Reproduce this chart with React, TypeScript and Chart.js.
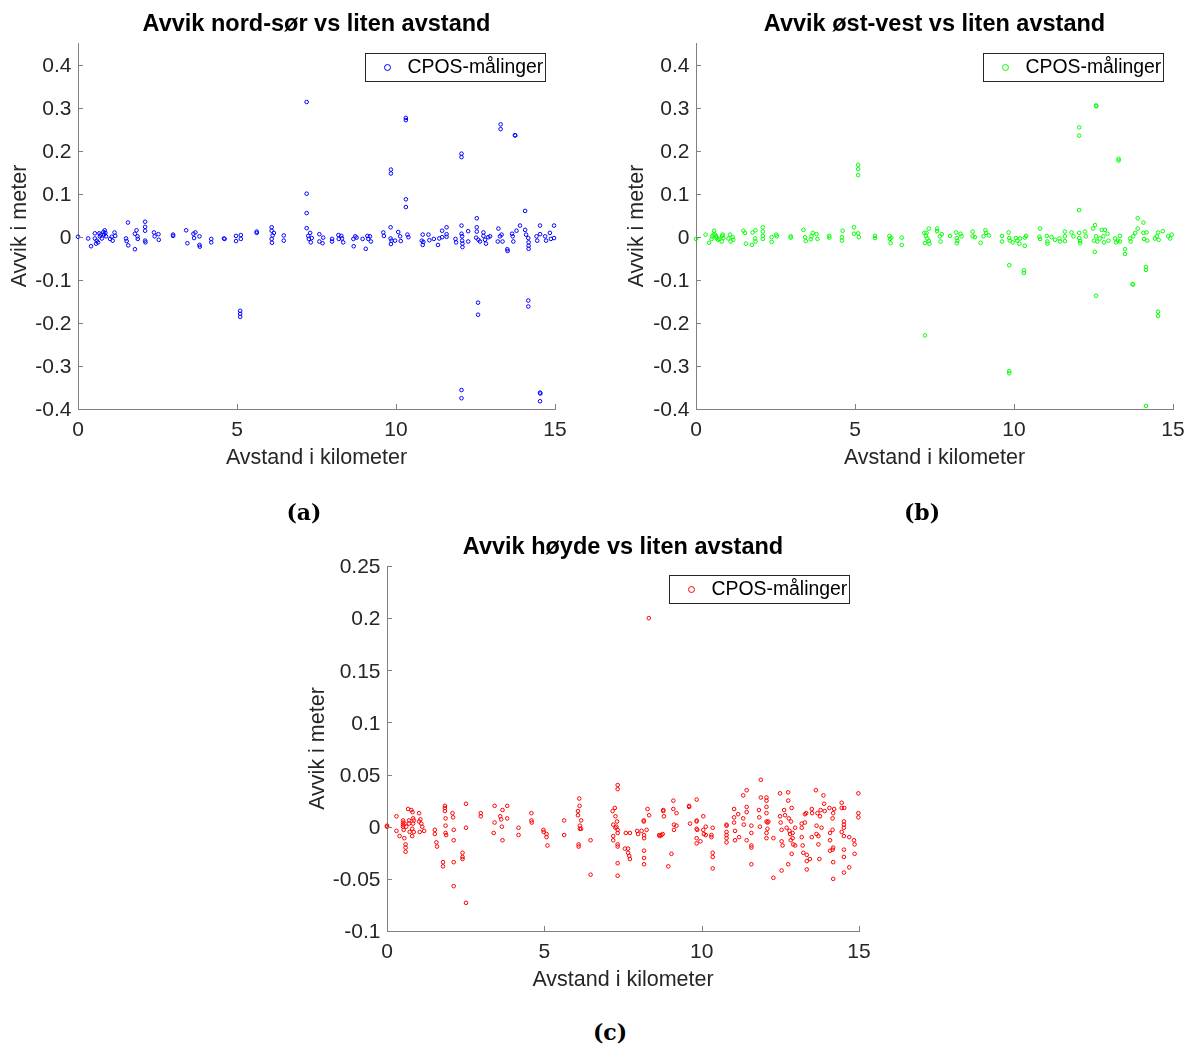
import React, { useEffect, useRef } from 'react';
import { Chart, registerables } from 'chart.js';

Chart.register(...registerables);

type Pt = [number, number];

// ---------- data (distance in km, deviation in m) ----------
const nordSor: Pt[] = [
  [0, 0], [0.32, -0.004], [0.41, -0.022], [0.53, 0.008], [0.53, -0.004], [0.57, -0.016], [0.59, -0.009],
  [0.63, -0.013], [0.67, 0.008], [0.69, 0.001], [0.71, 0.005], [0.75, -0.004], [0.8, 0.011], [0.82, 0.005],
  [0.84, 0.015], [0.86, 0.009], [0.88, 0.001], [1.01, -0.005], [1.06, 0], [1.09, -0.009], [1.15, 0.01],
  [1.17, 0.002], [1.51, -0.004], [1.53, -0.01], [1.57, 0.033], [1.58, -0.02], [1.79, -0.029], [1.79, 0.007],
  [1.84, 0.015], [1.87, 0.001], [1.88, -0.005], [2.11, 0.035], [2.11, 0.023], [2.11, 0.014], [2.11, -0.009],
  [2.12, -0.013], [2.39, 0.01], [2.41, 0.001], [2.53, 0.006], [2.54, -0.007], [2.99, 0.005], [2.99, 0.002],
  [3.4, 0.015], [3.44, -0.015], [3.63, 0.007], [3.65, -0.003], [3.69, 0.01], [3.82, 0.001], [3.82, -0.019],
  [3.83, -0.023], [4.19, -0.005], [4.19, -0.013], [4.59, -0.004], [4.61, -0.005], [4.97, 0.002], [4.97, -0.01],
  [5.12, 0.004], [5.12, -0.005], [5.62, 0.012], [5.62, 0.009], [6.09, 0.022], [6.09, 0.014], [6.12, 0.003],
  [6.09, -0.005], [6.1, -0.014], [6.16, 0.009], [6.47, 0.003], [6.47, -0.009], [7.24, 0.002], [7.26, -0.005],
  [7.3, 0.009], [7.32, -0.013], [7.35, -0.003], [7.59, 0.006], [7.59, -0.011], [7.69, -0.015], [7.71, -0.002],
  [7.99, -0.005], [7.99, -0.011], [8.19, 0.004], [8.2, -0.005], [8.28, 0.002], [8.3, -0.004], [8.34, -0.013],
  [8.66, -0.005], [8.67, -0.022], [8.72, 0.001], [8.76, -0.002], [8.95, -0.005], [9.05, -0.028], [9.1, 0.002],
  [9.13, -0.005], [9.18, 0.001], [9.21, -0.011], [9.6, 0.01], [9.62, 0.002], [9.83, 0.022], [9.83, -0.004],
  [9.84, -0.017], [9.86, -0.009], [9.97, -0.009], [10.07, 0.011], [10.13, 0.001], [10.15, -0.01], [10.36, 0.005],
  [10.39, -0.001], [10.81, -0.009], [10.84, -0.019], [10.84, 0.005], [10.86, -0.012], [11.02, 0.005],
  [11.05, -0.008], [11.19, -0.005], [11.32, -0.019], [11.36, -0.004], [11.45, -0.001], [11.45, 0.014],
  [11.59, 0.022], [11.59, 0.006], [11.59, 0], [11.87, -0.005], [11.89, -0.013], [12.06, 0.026], [12.06, 0.007],
  [12.08, 0.001], [12.08, -0.009], [12.09, -0.016], [12.09, -0.024], [12.27, 0.013], [12.27, -0.011],
  [12.54, 0.022], [12.54, 0.012], [12.52, -0.002], [12.59, -0.007], [12.64, -0.011], [12.75, 0.01],
  [12.75, 0.002], [12.8, -0.007], [12.83, -0.016], [12.9, -0.001], [12.96, 0.001], [13.22, 0.019],
  [13.2, -0.011], [13.27, 0.001], [13.32, 0.005], [13.35, -0.011], [13.5, -0.029], [13.51, -0.033],
  [13.65, 0.007], [13.67, 0.001], [13.69, -0.011], [13.79, 0.014], [13.9, 0.026], [14.06, 0.016],
  [14.09, 0.005], [14.16, -0.003], [14.17, -0.013], [14.17, -0.021], [14.17, -0.028], [14.42, 0.001],
  [14.44, -0.009], [14.53, 0.026], [14.53, 0.006], [14.69, 0.001], [14.72, -0.009], [14.84, 0.009],
  [14.87, -0.005], [14.97, 0.026], [14.97, -0.003],
  [7.19, 0.313], [7.19, 0.1], [7.19, 0.055], [7.19, 0.02], [10.31, 0.276], [10.31, 0.271], [13.29, 0.261],
  [13.29, 0.25], [13.74, 0.236], [13.75, 0.235], [12.06, 0.193], [12.06, 0.185], [9.84, 0.156], [9.84, 0.147],
  [10.31, 0.087], [10.31, 0.069], [14.06, 0.06], [12.54, 0.043], [5.1, -0.172], [5.1, -0.179], [5.1, -0.186],
  [12.58, -0.153], [12.58, -0.181], [14.16, -0.148], [14.16, -0.162], [12.06, -0.356], [12.06, -0.375],
  [14.53, -0.362], [14.54, -0.364], [14.53, -0.382],
];

const ostVest: Pt[] = [
  [0, -0.005], [0.3, 0.005], [0.41, -0.014], [0.49, -0.005], [0.51, 0.001], [0.55, 0.005], [0.57, 0.014],
  [0.6, 0.005], [0.63, 0.001], [0.65, -0.003], [0.69, -0.007], [0.73, -0.005], [0.81, -0.011], [0.82, 0.002],
  [0.84, 0.005], [0.86, -0.003], [1.02, -0.004], [1.07, 0.005], [1.09, -0.011], [1.15, -0.001], [1.17, -0.007],
  [1.49, 0.014], [1.54, 0.009], [1.57, -0.016], [1.76, -0.019], [1.78, 0.01], [1.86, -0.004], [1.87, -0.011],
  [1.87, 0.015], [2.1, 0.022], [2.1, 0.012], [2.1, 0.002], [2.1, -0.005], [2.38, -0.001], [2.38, -0.012],
  [2.52, 0.005], [2.54, 0.001], [2.98, 0.001], [2.98, -0.002], [3.38, 0.016], [3.43, -0.001], [3.45, -0.01],
  [3.61, -0.006], [3.63, 0.001], [3.67, 0.009], [3.79, 0.006], [3.82, -0.005], [4.19, 0.002], [4.19, -0.002],
  [4.59, -0.001], [4.59, -0.009], [4.61, 0.014], [4.97, 0.022], [4.97, 0.007], [5.1, 0.008], [5.12, -0.001],
  [5.63, 0.002], [5.63, -0.003], [6.08, 0.002], [6.1, -0.005], [6.12, -0.015], [6.14, -0.002], [6.47, -0.002],
  [6.47, -0.019], [7.18, 0.009], [7.2, -0.015], [7.23, 0.002], [7.25, 0.009], [7.27, -0.004], [7.32, 0.019],
  [7.32, -0.01], [7.34, -0.016], [7.58, 0.019], [7.58, 0.013], [7.67, 0.001], [7.69, -0.011], [7.73, 0.006],
  [7.99, 0.002], [8.18, 0.01], [8.2, -0.003], [8.2, -0.015], [8.22, -0.009], [8.32, 0.007], [8.35, 0.001],
  [8.7, 0.012], [8.7, 0.001], [8.77, -0.001], [8.95, -0.014], [9.04, 0.001], [9.1, 0.015], [9.12, 0.009],
  [9.21, 0.003], [9.62, 0.002], [9.62, -0.011], [9.83, 0.01], [9.85, -0.003], [9.87, -0.009], [9.96, -0.013],
  [10.06, -0.003], [10.1, -0.009], [10.17, -0.016], [10.19, -0.004], [10.34, -0.002], [10.34, -0.021],
  [10.38, 0.002], [10.8, 0], [10.82, 0.019], [10.82, -0.005], [11.03, 0.002], [11.05, -0.011], [11.05, -0.016],
  [11.18, -0.001], [11.29, -0.007], [11.43, -0.004], [11.45, -0.011], [11.6, 0.012], [11.6, 0.001],
  [11.6, -0.01], [11.81, 0.01], [11.87, 0.001], [12.05, 0.009], [12.05, -0.003], [12.08, -0.01], [12.08, -0.015],
  [12.23, 0.012], [12.26, 0.001], [12.49, 0.019], [12.52, -0.009], [12.55, 0.027], [12.58, 0.001],
  [12.62, -0.011], [12.7, -0.004], [12.76, 0.016], [12.81, 0.001], [12.83, -0.013], [12.86, 0.016],
  [12.94, 0.007], [12.97, -0.009], [13.18, -0.004], [13.21, -0.013], [13.26, -0.009], [13.33, 0.002],
  [13.33, -0.011], [13.65, -0.004], [13.67, -0.011], [13.75, 0.001], [13.81, 0.009], [13.89, 0.019],
  [14.07, 0.009], [14.09, -0.005], [14.17, 0.01], [14.19, -0.009], [14.43, -0.004], [14.49, 0.001],
  [14.53, 0.01], [14.55, -0.007], [14.68, 0.013], [14.85, 0.001], [14.91, -0.004], [14.96, 0.005],
  [12.58, 0.305], [12.59, 0.303], [12.05, 0.254], [12.05, 0.235], [13.29, 0.181], [13.29, 0.177], [5.1, 0.167],
  [5.1, 0.157], [5.1, 0.143], [12.05, 0.062], [13.89, 0.043], [14.07, 0.033], [12.54, -0.035], [13.49, -0.029],
  [13.49, -0.04], [9.85, -0.066], [10.31, -0.078], [10.31, -0.084], [14.15, -0.07], [14.15, -0.077],
  [13.73, -0.11], [13.74, -0.111], [12.58, -0.137], [14.53, -0.174], [14.53, -0.184], [7.2, -0.229],
  [9.85, -0.312], [9.85, -0.317], [14.15, -0.393],
];

const hoyde: Pt[] = [
  [0, 0], [0, 0.001], [0.3, 0.01], [0.3, -0.004], [0.4, -0.009], [0.51, 0.006], [0.51, 0.004], [0.51, 0.002],
  [0.51, 0], [0.53, -0.003], [0.56, 0.003], [0.55, -0.011], [0.59, -0.017], [0.59, -0.02], [0.59, -0.024],
  [0.61, 0], [0.67, 0.017], [0.7, 0.003], [0.7, 0.006], [0.72, -0.005], [0.77, 0.016], [0.8, -0.009],
  [0.8, -0.002], [0.81, 0.014], [0.83, 0.008], [0.85, 0.006], [0.85, -0.005], [0.83, 0.003], [1.02, 0.013],
  [1.02, 0.005], [1.04, -0.005], [1.06, 0.007], [1.09, 0.003], [1.12, 0], [1.18, -0.004], [1.52, -0.003],
  [1.52, -0.007], [1.57, -0.015], [1.59, -0.019], [1.78, -0.034], [1.78, -0.038], [1.84, 0.02], [1.84, 0.018],
  [1.84, 0.015], [1.86, 0.008], [1.86, 0.001], [1.86, -0.006], [1.88, -0.008], [2.08, 0.013], [2.1, 0.009],
  [2.12, -0.003], [2.12, -0.013], [2.12, -0.034], [2.12, -0.057], [2.4, -0.025], [2.4, -0.029], [2.4, -0.031],
  [2.51, 0.022], [2.51, -0.001], [2.51, -0.073], [2.98, 0.013], [2.98, 0.01], [3.39, -0.006], [3.42, 0.02],
  [3.42, 0.004], [3.6, 0.01], [3.63, 0.007], [3.65, 0], [3.67, 0.016], [3.67, -0.013], [3.82, 0.02],
  [3.82, 0.008], [4.18, -0.001], [4.18, -0.008], [4.59, 0.013], [4.59, 0.006], [4.6, 0.004], [4.97, -0.003],
  [4.98, -0.005], [5.07, -0.007], [5.07, -0.01], [5.1, -0.018], [5.63, 0.006], [5.63, -0.008], [6.07, 0.015],
  [6.07, 0.011], [6.11, 0.027], [6.12, 0.02], [6.13, 0.001], [6.13, -0.002], [6.09, -0.017], [6.09, -0.019],
  [6.17, 0.006], [6.17, -0.002], [6.47, -0.013], [6.47, -0.046], [7.17, 0.015], [7.19, 0.002], [7.19, -0.009],
  [7.19, -0.013], [7.24, 0.018], [7.26, 0.01], [7.26, -0.001], [7.29, 0], [7.31, 0.005], [7.33, 0.04],
  [7.33, 0.036], [7.33, -0.003], [7.33, -0.006], [7.33, -0.017], [7.33, -0.019], [7.33, -0.035], [7.33, -0.047],
  [7.56, -0.021], [7.59, -0.006], [7.66, -0.021], [7.66, -0.025], [7.7, -0.028], [7.72, -0.031], [7.72, -0.006],
  [7.95, -0.004], [7.98, -0.007], [8.09, -0.004], [8.16, 0.006], [8.16, 0.005], [8.17, -0.008], [8.17, -0.011],
  [8.17, -0.023], [8.17, -0.03], [8.17, -0.036], [8.25, -0.003], [8.28, 0.017], [8.33, 0.011], [8.65, -0.008],
  [8.67, -0.009], [8.72, -0.008], [8.76, -0.007], [8.78, 0.016], [8.78, 0.015], [8.8, 0.01], [8.94, -0.038],
  [9.04, -0.026], [9.1, 0.025], [9.1, 0.017], [9.12, -0.003], [9.12, 0.002], [9.2, 0.013], [9.2, 0.001],
  [9.6, 0.02], [9.6, 0.019], [9.63, 0.003], [9.84, 0.026], [9.84, 0.006], [9.84, 0.005], [9.84, -0.002],
  [9.86, -0.003], [9.84, -0.011], [9.84, -0.016], [9.96, -0.014], [10.05, 0.01], [10.05, -0.003],
  [10.07, -0.007], [10.13, 0], [10.13, -0.008], [10.31, -0.008], [10.31, -0.01], [10.35, -0.001],
  [10.35, -0.025], [10.35, -0.029], [10.35, -0.04], [10.79, 0.002], [10.79, 0.001], [10.79, -0.005],
  [10.79, -0.008], [10.79, -0.011], [10.79, -0.015], [11.03, 0.017], [11.03, 0.009], [11.03, 0.004],
  [11.06, -0.004], [11.06, -0.013], [11.16, 0.012], [11.19, -0.01], [11.32, 0.03], [11.32, 0.008],
  [11.34, 0.002], [11.43, 0.035], [11.43, 0.019], [11.43, 0.014], [11.43, -0.013], [11.58, 0.001],
  [11.58, -0.006], [11.58, -0.018], [11.58, -0.02], [11.58, -0.036], [11.82, 0.016], [11.83, 0.009],
  [11.85, 0], [11.88, 0.045], [11.88, 0.028], [12.06, 0.028], [12.06, 0.025], [12.06, 0.019], [12.06, 0.013],
  [12.06, 0.005], [12.09, 0.004], [12.09, -0.002], [12.06, -0.006], [12.06, -0.011], [12.12, 0.005],
  [12.28, -0.011], [12.28, -0.049], [12.49, 0.032], [12.49, 0.01], [12.51, 0.004], [12.54, -0.003],
  [12.54, -0.014], [12.57, -0.018], [12.54, -0.042], [12.62, 0.016], [12.65, 0.011], [12.7, -0.001],
  [12.75, 0.033], [12.75, 0.025], [12.77, 0.008], [12.79, -0.004], [12.81, -0.007], [12.83, -0.013],
  [12.84, 0.005], [12.86, 0.018], [12.86, -0.026], [12.89, -0.006], [12.89, -0.011], [12.91, -0.017],
  [12.97, -0.001], [12.97, -0.018], [12.75, -0.036], [13.18, 0.003], [13.18, -0.001], [13.18, -0.01],
  [13.21, -0.018], [13.23, -0.025], [13.28, 0.012], [13.28, 0.004], [13.32, 0.013], [13.34, -0.027],
  [13.34, -0.033], [13.34, -0.041], [13.44, -0.031], [13.5, 0.017], [13.51, 0.013], [13.5, -0.01],
  [13.63, 0.035], [13.65, 0.001], [13.65, -0.007], [13.68, 0.013], [13.71, -0.009], [13.71, -0.017],
  [13.74, -0.031], [13.76, 0.01], [13.78, 0.016], [13.81, -0.001], [13.87, 0.03], [13.89, 0.022],
  [13.91, 0.015], [14.06, 0.018], [14.08, -0.006], [14.08, -0.013], [14.08, -0.023], [14.16, -0.022],
  [14.18, -0.02], [14.16, -0.003], [14.16, 0.008], [14.18, -0.05], [14.18, -0.034], [14.18, 0.013],
  [14.21, 0.017], [14.45, 0.023], [14.45, -0.005], [14.45, 0.018], [14.53, 0.018], [14.52, 0.005],
  [14.52, 0.002], [14.52, -0.001], [14.52, -0.009], [14.52, -0.022], [14.52, -0.029], [14.52, -0.044],
  [14.69, -0.01], [14.69, -0.039], [14.84, -0.013], [14.86, -0.017], [14.86, -0.026], [14.98, 0.032],
  [14.98, 0.013], [14.98, 0.009],
  [8.32, 0.2],
];

const X_TICKS = [0, 5, 10, 15];
const Y_TICKS_HORIZ = [-0.4, -0.3, -0.2, -0.1, 0, 0.1, 0.2, 0.3, 0.4];
const Y_TICKS_HEIGHT = [-0.1, -0.05, 0, 0.05, 0.1, 0.15, 0.2, 0.25];
const TITLES = ['Avvik nord-sør vs liten avstand', 'Avvik øst-vest vs liten avstand', 'Avvik høyde vs liten avstand'];
const X_LABEL = 'Avstand i kilometer';
const Y_LABEL = 'Avvik i meter';
const LEGEND_LABEL = 'CPOS-målinger';
const SUB_LABELS = ['(a)', '(b)', '(c)'];

// ---------- styling ----------
const FONT = '"Liberation Sans", Arial, Helvetica, sans-serif';
const TXT = '#262626';
const AXIS = '#808080';

const fmt = (v: number) => String(Number(Number(v).toFixed(2)));

const inwardTicks = {
  id: 'inwardTicks',
  afterDatasetsDraw(chart: any) {
    const { ctx, chartArea, scales } = chart;
    const len = 5;
    ctx.save();
    ctx.strokeStyle = AXIS;
    ctx.lineWidth = 1;
    ctx.beginPath();
    scales.x.ticks.forEach((t: any) => {
      const px = Math.round(scales.x.getPixelForValue(t.value)) + 0.5;
      ctx.moveTo(px, chartArea.bottom);
      ctx.lineTo(px, chartArea.bottom - len);
    });
    scales.y.ticks.forEach((t: any) => {
      const py = Math.round(scales.y.getPixelForValue(t.value)) + 0.5;
      ctx.moveTo(chartArea.left, py);
      ctx.lineTo(chartArea.left + len, py);
    });
    ctx.stroke();
    ctx.restore();
  },
};

const boxLegend = {
  id: 'boxLegend',
  afterDraw(chart: any, _args: any, opts: any) {
    const { ctx, chartArea } = chart;
    const ds = chart.data.datasets[0];
    const w = opts.width;
    const h = opts.height;
    const x = Math.round(chartArea.right - opts.offsetRight - w) + 0.5;
    const y = Math.round(chartArea.top + opts.offsetTop) + 0.5;
    ctx.save();
    ctx.fillStyle = '#ffffff';
    ctx.fillRect(x, y, w, h);
    ctx.strokeStyle = '#262626';
    ctx.lineWidth = 1;
    ctx.strokeRect(x, y, w, h);
    ctx.beginPath();
    ctx.arc(x + opts.markerX, y + h / 2, opts.markerR, 0, Math.PI * 2);
    ctx.strokeStyle = ds.borderColor;
    ctx.stroke();
    ctx.fillStyle = '#000000';
    ctx.font = `${opts.fontSize}px ${FONT}`;
    ctx.textAlign = 'left';
    ctx.textBaseline = 'middle';
    ctx.fillText(ds.label, x + opts.textX, y + h / 2 + 0.5);
    ctx.restore();
  },
};

interface PanelCfg {
  points: Pt[];
  color: string;
  title: string;
  yTicks: number[];
  yMin: number;
  yMax: number;
  left: number;
  top: number;
  width: number;
  height: number;
  yAxisWidth: number;
  yTitlePad: number;
  padRight: number;
  legendTop: number;
}

function Panel({ cfg }: { cfg: PanelCfg }) {
  const ref = useRef<HTMLCanvasElement>(null);
  useEffect(() => {
    const chart = new Chart(ref.current as HTMLCanvasElement, {
      type: 'scatter',
      data: {
        datasets: [
          {
            label: LEGEND_LABEL,
            data: cfg.points.map(([x, y]) => ({ x, y })),
            borderColor: cfg.color,
            backgroundColor: 'rgba(0,0,0,0)',
            pointRadius: 1.8,
            pointHoverRadius: 1.8,
            pointBorderWidth: 1,
            clip: false as any,
          },
        ],
      },
      options: {
        responsive: false,
        animation: false,
        events: [],
        layout: { padding: { left: 0, top: 0, right: cfg.padRight, bottom: 0 } },
        plugins: {
          legend: { display: false },
          tooltip: { enabled: false },
          title: {
            display: true,
            text: cfg.title,
            fullSize: false,
            color: '#000000',
            font: { family: FONT, size: 23.5, weight: 'bold', lineHeight: 1.2 },
            padding: { top: 10.3, bottom: 4.5 },
          },
          boxLegend: {
            width: 180,
            height: 28,
            offsetRight: 10,
            offsetTop: cfg.legendTop,
            markerX: 22,
            markerR: 3,
            textX: 42,
            fontSize: 19.4,
          },
        } as any,
        scales: {
          x: {
            type: 'linear',
            min: 0,
            max: 15,
            afterBuildTicks: (s: any) => {
              s.ticks = X_TICKS.map((value) => ({ value }));
            },
            afterFit: (s: any) => {
              s.height = 71;
              s.paddingLeft = 0;
              s.paddingRight = 0;
            },
            grid: { display: true, drawOnChartArea: false, drawTicks: false },
            border: { display: true, color: AXIS, width: 1 },
            ticks: {
              color: TXT,
              font: { family: FONT, size: 21 },
              padding: 8.6,
              maxRotation: 0,
              autoSkip: false,
              callback: (v: any) => fmt(v),
            },
            title: {
              display: true,
              text: X_LABEL,
              color: TXT,
              font: { family: FONT, size: 21.5 },
              padding: { top: 0, bottom: 8.8 },
            },
          },
          y: {
            type: 'linear',
            min: cfg.yMin,
            max: cfg.yMax,
            afterBuildTicks: (s: any) => {
              s.ticks = cfg.yTicks.map((value) => ({ value }));
            },
            afterFit: (s: any) => {
              s.width = cfg.yAxisWidth;
              s.paddingTop = 0;
              s.paddingBottom = 0;
            },
            grid: { display: true, drawOnChartArea: false, drawTicks: false },
            border: { display: true, color: AXIS, width: 1 },
            ticks: {
              color: TXT,
              font: { family: FONT, size: 21 },
              padding: 6.5,
              labelOffset: 1.5,
              autoSkip: false,
              callback: (v: any) => fmt(v),
            },
            title: {
              display: true,
              text: Y_LABEL,
              color: TXT,
              font: { family: FONT, size: 21.5 },
              padding: { top: cfg.yTitlePad, bottom: 0 },
            },
          },
        },
      },
      plugins: [inwardTicks, boxLegend],
    });
    return () => chart.destroy();
  }, [cfg]);
  return (
    <canvas
      ref={ref}
      width={cfg.width}
      height={cfg.height}
      style={{ position: 'absolute', left: cfg.left, top: cfg.top, width: cfg.width, height: cfg.height }}
    />
  );
}

const PANELS: PanelCfg[] = [
  {
    points: nordSor, color: '#0000ff', title: TITLES[0], yTicks: Y_TICKS_HORIZ, yMin: -0.4, yMax: 0.45,
    left: 0, top: 0, width: 600, height: 480, yAxisWidth: 78, yTitlePad: 7.1, padRight: 45, legendTop: 10,
  },
  {
    points: ostVest, color: '#00ff00', title: TITLES[1], yTicks: Y_TICKS_HORIZ, yMin: -0.4, yMax: 0.45,
    left: 618, top: 0, width: 570, height: 480, yAxisWidth: 78, yTitlePad: 6.1, padRight: 15, legendTop: 10,
  },
  {
    points: hoyde, color: '#ff0000', title: TITLES[2], yTicks: Y_TICKS_HEIGHT, yMin: -0.1, yMax: 0.25,
    left: 300, top: 523, width: 600, height: 479, yAxisWidth: 87, yTitlePad: 5.1, padRight: 41, legendTop: 9,
  },
];

const SUB_POS = [
  { cx: 304, cy: 512 },
  { cx: 922, cy: 512 },
  { cx: 610, cy: 1032 },
];

export default function App() {
  return (
    <div
      style={{
        position: 'absolute',
        left: 0,
        top: 0,
        width: 1188,
        height: 1047,
        overflow: 'hidden',
        background: '#ffffff',
      }}
    >
      {PANELS.map((p, i) => (
        <Panel key={i} cfg={p} />
      ))}
      {SUB_LABELS.map((s, i) => (
        <div
          key={s}
          style={{
            position: 'absolute',
            left: SUB_POS[i].cx - 50,
            top: SUB_POS[i].cy - 15,
            width: 100,
            height: 30,
            lineHeight: '30px',
            textAlign: 'center',
            fontFamily: '"DejaVu Serif", "Liberation Serif", serif',
            fontWeight: 'bold',
            fontSize: 22,
            color: '#000000',
          }}
        >
          {s}
        </div>
      ))}
    </div>
  );
}
